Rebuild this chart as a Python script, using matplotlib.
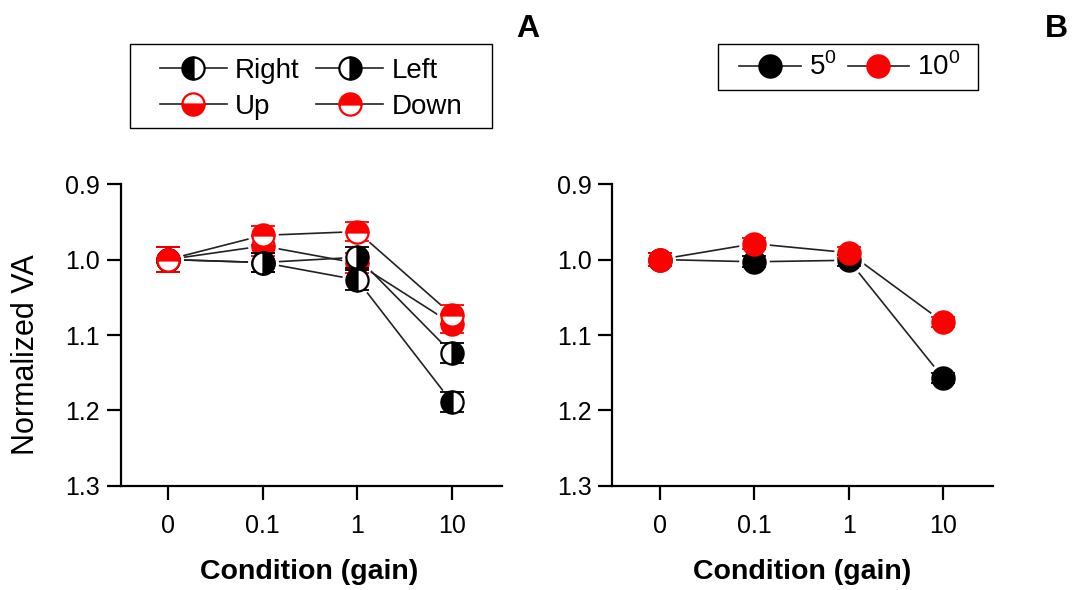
import matplotlib
matplotlib.use("Agg")
import matplotlib.pyplot as plt
from matplotlib.lines import Line2D
from matplotlib.patches import Rectangle

plt.rcParams["font.family"] = ["Liberation Sans", "DejaVu Sans"]
plt.rcParams["mathtext.fontset"] = "custom"
plt.rcParams["mathtext.rm"] = "Liberation Sans"

# data
conditions = ["0", "0.1", "1", "10"]
xpos = [0, 1, 2, 3]

# panel A: direction of motion
right_va = [1.0, 1.004, 1.027, 1.189]
left_va = [1.0, 1.004, 0.997, 1.124]
up_va = [1.0, 0.982, 1.005, 1.085]
down_va = [1.0, 0.968, 0.963, 1.073]
right_err = [0.016, 0.013, 0.013, 0.013]
left_err = [0.016, 0.013, 0.014, 0.013]
up_err = [0.016, 0.013, 0.013, 0.013]
down_err = [0.017, 0.013, 0.013, 0.013]

# panel B: eccentricity
ecc5_va = [1.0, 1.003, 1.001, 1.157]
ecc10_va = [1.0, 0.979, 0.991, 1.083]
ecc5_err = [0.008, 0.007, 0.007, 0.007]
ecc10_err = [0.009, 0.007, 0.007, 0.007]

RED = "#ff0000"
MS = 16
W, H = 1073, 590


def draw_series(ax, y, err, color, fill, z):
    ax.plot(xpos, y, color="#222222", lw=1.2, zorder=1)
    # white ring so the lines stop short of the markers
    ax.plot(xpos, y, ls="none", marker="o", ms=MS + 5, mfc="white", mec="white", zorder=2)
    ax.errorbar(xpos, y, yerr=err, fmt="none", ecolor=color, elinewidth=1.3,
                capsize=8.5, capthick=1.3, zorder=3 + z)
    ax.plot(xpos, y, ls="none", marker="o", ms=MS, mec=color, mew=1.6,
            mfc=color, fillstyle=fill, markerfacecoloralt="white", zorder=3 + z)


def style_axes(ax):
    ax.set_xlim(-0.5, 3.53)
    ax.set_ylim(1.3, 0.9)
    ax.set_yticks([0.9, 1.0, 1.1, 1.2, 1.3])
    ax.set_yticklabels(["0.9", "1.0", "1.1", "1.2", "1.3"])
    ax.set_xticks(xpos)
    ax.set_xticklabels(conditions)
    for s in ["top", "right"]:
        ax.spines[s].set_visible(False)
    for s in ["left", "bottom"]:
        ax.spines[s].set_linewidth(1.6)
    ax.tick_params(axis="both", direction="out", length=10, width=1.6, labelsize=18)
    ax.tick_params(axis="y", pad=5)
    ax.tick_params(axis="x", pad=10)


def handle(color, fill):
    return Line2D([], [], color="#222222", lw=1.2, marker="o", ms=MS, mec=color, mew=1.6,
                  mfc=color, fillstyle=fill, markerfacecoloralt="white")


def frame_box(x0, y0, x1, y1):
    fig.patches.append(Rectangle((x0 / W, 1 - y1 / H), (x1 - x0) / W, (y1 - y0) / H,
                                 transform=fig.transFigure, fill=False,
                                 edgecolor="black", lw=1))


fig = plt.figure(figsize=(10.73, 5.9), dpi=100)
axA = fig.add_axes([0.1128, 0.1763, 0.355, 0.5118])
axB = fig.add_axes([0.5708, 0.1763, 0.355, 0.5118])

# panel A
draw_series(axA, up_va, up_err, RED, "bottom", 0)
draw_series(axA, right_va, right_err, "black", "left", 1)
draw_series(axA, left_va, left_err, "black", "right", 2)
draw_series(axA, down_va, down_err, RED, "top", 3)
style_axes(axA)

# panel B
draw_series(axB, ecc5_va, ecc5_err, "black", "full", 0)
draw_series(axB, ecc10_va, ecc10_err, RED, "full", 1)
style_axes(axB)

# legends
fig.legend([handle("black", "left"), handle(RED, "bottom"),
            handle("black", "right"), handle(RED, "top")],
           ["Right", "Up", "Left", "Down"], ncol=2, loc="center",
           bbox_to_anchor=(311 / W, 1 - 89 / H), fontsize=20, frameon=False,
           handlelength=2.4, handletextpad=0.3, columnspacing=0.6,
           labelspacing=0.35, borderpad=0.2)
frame_box(130, 44, 492, 128)

fig.legend([handle("black", "full"), handle(RED, "full")],
           [r"5$^\mathrm{0}$", r"10$^\mathrm{0}$"], ncol=2, loc="center",
           bbox_to_anchor=(850 / W, 1 - 67 / H), fontsize=20, frameon=False,
           handlelength=2.2, handletextpad=0.3, columnspacing=0.4, borderpad=0.2)
frame_box(718, 44, 978, 90)

# labels
fig.text(26 / W, 1 - 355 / H, "Normalized VA", rotation=90, ha="center",
         va="center", fontsize=22)
fig.text(309 / W, 1 - 572 / H, "Condition (gain)", ha="center", va="center",
         fontsize=20.5, fontweight="bold")
fig.text(802 / W, 1 - 572 / H, "Condition (gain)", ha="center", va="center",
         fontsize=20.5, fontweight="bold")
fig.text(528 / W, 1 - 29 / H, "A", ha="center", va="center", fontsize=23,
         fontweight="bold")
fig.text(1056 / W, 1 - 29 / H, "B", ha="center", va="center", fontsize=23,
         fontweight="bold")

fig.savefig("out.png", dpi=100)
